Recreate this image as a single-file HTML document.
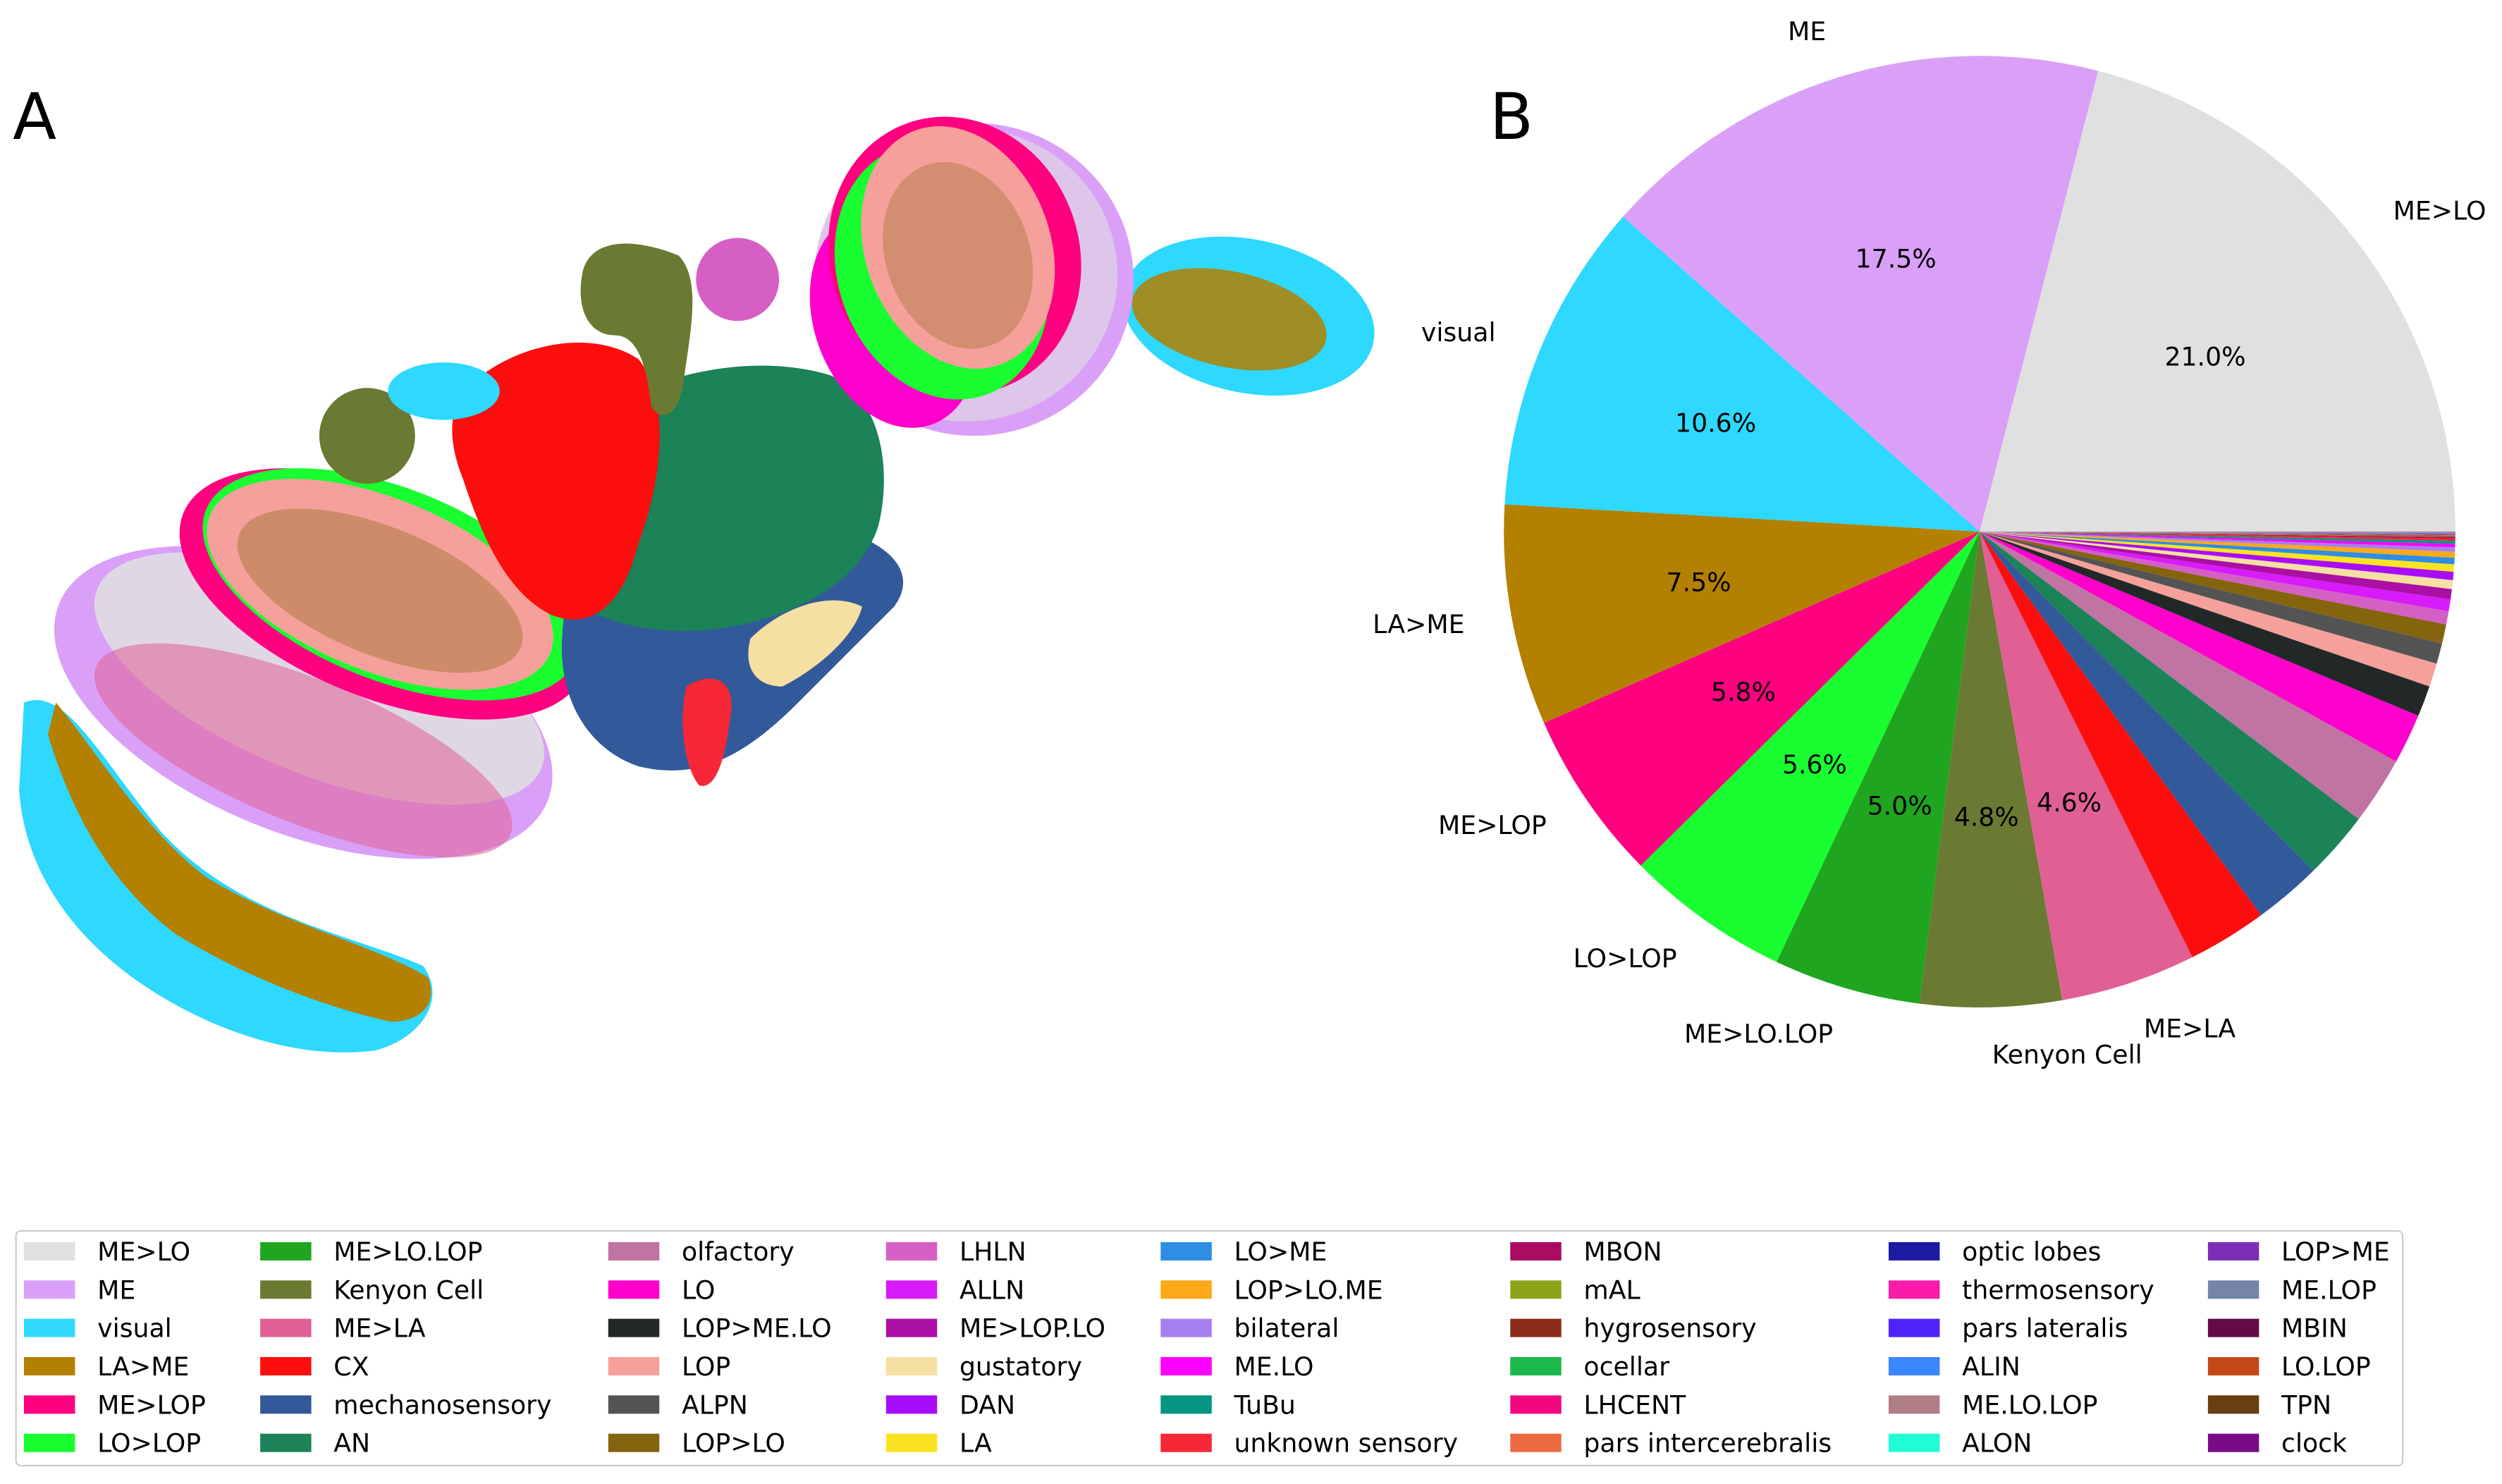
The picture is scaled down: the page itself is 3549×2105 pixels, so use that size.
<!DOCTYPE html>
<html><head><meta charset="utf-8">
<style>
html,body{margin:0;padding:0;background:#fff;}
svg{display:block;}
text{font-family:"DejaVu Sans","Liberation Sans",sans-serif;}
</style></head>
<body>
<svg id="fig" width="3549" height="2105" viewBox="0 0 1567.2 929.5" preserveAspectRatio="none" xmlns="http://www.w3.org/2000/svg">
<text x="8" y="87" font-size="40">A</text>
<text x="933" y="87" font-size="40">B</text>

<g id="scatter">
  <path fill="#2ed8fe" d="M15,440 C40,430 60,470 100,520 C150,575 220,585 265,605 C280,625 265,650 235,658 C180,665 120,640 80,610 C40,580 15,540 12,495 Z"/>
  <path fill="#b38000" d="M35,440 C60,470 90,520 130,550 C180,580 230,590 268,612 C275,630 262,640 245,640 C200,630 150,610 110,585 C70,555 45,510 30,460 Z"/>
  <ellipse cx="190" cy="440" rx="165" ry="82" transform="rotate(22 190 440)" fill="#daa0f8"/>
  <ellipse cx="200" cy="425" rx="150" ry="60" transform="rotate(22 200 425)" fill="#e0e0e0" opacity="0.85"/>
  <ellipse cx="190" cy="470" rx="140" ry="45" transform="rotate(22 190 470)" fill="#e06096" opacity="0.55"/>
  <ellipse cx="240" cy="372" rx="135" ry="65" transform="rotate(22 240 372)" fill="#fe0080"/>
  <ellipse cx="245" cy="366" rx="125" ry="60" transform="rotate(22 245 366)" fill="#18fe30"/>
  <ellipse cx="238" cy="366" rx="115" ry="54" transform="rotate(22 238 366)" fill="#f5a09b"/>
  <ellipse cx="238" cy="370" rx="95" ry="40" transform="rotate(22 238 370)" fill="#84640d" opacity="0.35"/>
  <path fill="#325a9a" d="M355,360 C400,340 470,330 520,330 C560,340 575,360 560,380 C540,400 520,420 500,440 C470,470 440,490 400,480 C370,470 350,440 352,400 Z"/>
  <path fill="#1c8258" d="M370,260 C410,235 470,220 520,235 C555,250 558,300 550,330 C540,360 510,380 470,390 C430,400 390,395 365,380 C350,350 352,290 370,260 Z"/>
  <path fill="#fc0e0e" d="M290,245 C320,215 370,205 400,225 C420,250 415,300 400,340 C390,380 370,395 345,385 C315,370 300,330 290,300 C280,275 282,258 290,245 Z"/>
  <circle cx="230" cy="273" r="30" fill="#6b7a32"/>
  <path fill="#6b7a32" d="M365,170 C370,150 395,148 425,160 C440,175 432,210 428,240 C425,260 415,265 408,255 C405,230 400,210 385,210 C370,210 360,195 365,170 Z"/>
  <circle cx="462" cy="175" r="26" fill="#d55fc4"/>
  <ellipse cx="278" cy="245" rx="35" ry="18" fill="#2ed8fe"/>
  <path fill="#f6dfa2" d="M470,400 C490,380 520,370 540,380 C535,400 510,420 490,430 C475,430 465,420 470,400Z"/>
  <path fill="#f62737" d="M430,430 C445,420 460,425 458,445 C455,470 450,495 438,492 C428,480 425,450 430,430Z"/>
  <ellipse cx="782" cy="198" rx="80" ry="48" transform="rotate(12 782 198)" fill="#2ed8fe"/>
  <ellipse cx="770" cy="200" rx="62" ry="30" transform="rotate(12 770 200)" fill="#b38000" opacity="0.85"/>
  <ellipse cx="610" cy="175" rx="100" ry="98" fill="#daa0f8"/>
  <ellipse cx="605" cy="172" rx="95" ry="92" fill="#e0e0e0" opacity="0.6"/>
  <ellipse cx="560" cy="200" rx="50" ry="70" transform="rotate(-20 560 200)" fill="#ff00cc"/>
  <ellipse cx="598" cy="160" rx="78" ry="88" transform="rotate(-20 598 160)" fill="#fe0080"/>
  <ellipse cx="590" cy="170" rx="65" ry="82" transform="rotate(-20 590 170)" fill="#18fe30"/>
  <ellipse cx="600" cy="155" rx="58" ry="78" transform="rotate(-20 600 155)" fill="#f5a09b"/>
  <ellipse cx="600" cy="160" rx="45" ry="60" transform="rotate(-20 600 160)" fill="#84640d" opacity="0.3"/>
</g>

<g id="pie"></g>

<g id="legend">
  <rect x="10" y="771" width="1495" height="147" rx="3" fill="#fff" stroke="#cccccc" stroke-width="1"/>
</g>
</svg>
<script>
const categories = ["ME>LO","ME","visual","LA>ME","ME>LOP","LO>LOP","ME>LO.LOP","Kenyon Cell","ME>LA","CX","mechanosensory","AN","olfactory","LO","LOP>ME.LO","LOP","ALPN","LOP>LO","LHLN","ALLN","ME>LOP.LO","gustatory","DAN","LA","LO>ME","LOP>LO.ME","bilateral","ME.LO","TuBu","unknown sensory","MBON","mAL","hygrosensory","ocellar","LHCENT","pars intercerebralis","optic lobes","thermosensory","pars lateralis","ALIN","ME.LO.LOP","ALON","LOP>ME","ME.LOP","MBIN","LO.LOP","TPN","clock"];
const percents = [21.0,17.5,10.6,7.5,5.8,5.6,5.0,4.8,4.6,2.7,2.3,2.3,2.3,1.7,1.05,0.8,0.7,0.65,0.45,0.4,0.35,0.3,0.28,0.25,0.22,0.2,0.15,0.12,0.1,0.08,0.05,0.02,0.02,0.015,0.015,0.012,0.012,0.01,0.01,0.01,0.008,0.008,0.007,0.007,0.006,0.006,0.005,0.005];
const colors = ["#e0e0e0","#daa0f8","#2ed8fe","#b38000","#fe0080","#18fe30","#1fa51f","#6b7a32","#e06096","#fc0e0e","#325a9a","#1c8258","#c074a3","#ff00cc","#222828","#f5a09b","#545454","#84640d","#d55fc4","#d81bfa","#ab0fa4","#f6dfa2","#a80dfa","#fce322","#2d8ee3","#fba918","#a77ef0","#fe00fe","#069580","#f62737","#a80b60","#8fa31a","#8a2b1a","#1db84c","#f30781","#ec6a3f","#1c1aa1","#f81ca8","#5222fa","#3a86fc","#b07e87","#20fcd6","#7c2fb4","#7585aa","#620b46","#c5481a","#6a3e12","#7a0b86"];

const NS = "http://www.w3.org/2000/svg";
const cx = 1240, cy = 333, R = 298;
const total = percents.reduce((a,b)=>a+b,0);
function angleScale(v){ return v/total*2*Math.PI; }
function px(a,r){ return cx + r*Math.cos(a); }
function py(a,r){ return cy - r*Math.sin(a); }
const pie = document.getElementById('pie');
let start = 0;
percents.forEach((v,i)=>{
  const sweep = angleScale(v);
  const end = start + sweep;
  const large = sweep > Math.PI ? 1 : 0;
  const p = document.createElementNS(NS,'path');
  p.setAttribute('d',`M${cx},${cy} L${px(start,R)},${py(start,R)} A${R},${R} 0 ${large} 0 ${px(end,R)},${py(end,R)} Z`);
  p.setAttribute('fill',colors[i]);
  
  
  pie.appendChild(p);
  const pct = v/total*100;
  if (pct >= 4){
    const mid = (start+end)/2;
    const lx = px(mid,R*1.1), ly = py(mid,R*1.1);
    const t = document.createElementNS(NS,'text');
    t.setAttribute('x',lx); t.setAttribute('y',ly+5.5);
    t.setAttribute('font-size','16');
    t.setAttribute('text-anchor', lx < cx ? 'end' : 'start');
    t.textContent = categories[i];
    
    
    pie.appendChild(t);
    const t2 = document.createElementNS(NS,'text');
    t2.setAttribute('x',px(mid,R*0.6)); t2.setAttribute('y',py(mid,R*0.6)+5.5);
    t2.setAttribute('font-size','16');
    t2.setAttribute('text-anchor','middle');
    t2.textContent = pct.toFixed(1)+'%';
    
    
    pie.appendChild(t2);
  }
  start = end;
});

const legend = document.getElementById('legend');
const colX = [15,163,381,555,727,946,1183,1383];
categories.forEach((c,i)=>{
  const col = Math.floor(i/6), row = i%6;
  const x = colX[col], y = 784 + row*24;
  const r = document.createElementNS(NS,'rect');
  r.setAttribute('x',x); r.setAttribute('y',y-6);
  r.setAttribute('width',32); r.setAttribute('height',11.5);
  r.setAttribute('fill',colors[i]);
  
  
  legend.appendChild(r);
  const t = document.createElementNS(NS,'text');
  t.setAttribute('x',x+46); t.setAttribute('y',y+5.5);
  t.setAttribute('font-size','16');
  t.textContent = c;
  
  
  legend.appendChild(t);
});
</script>
</body></html>
